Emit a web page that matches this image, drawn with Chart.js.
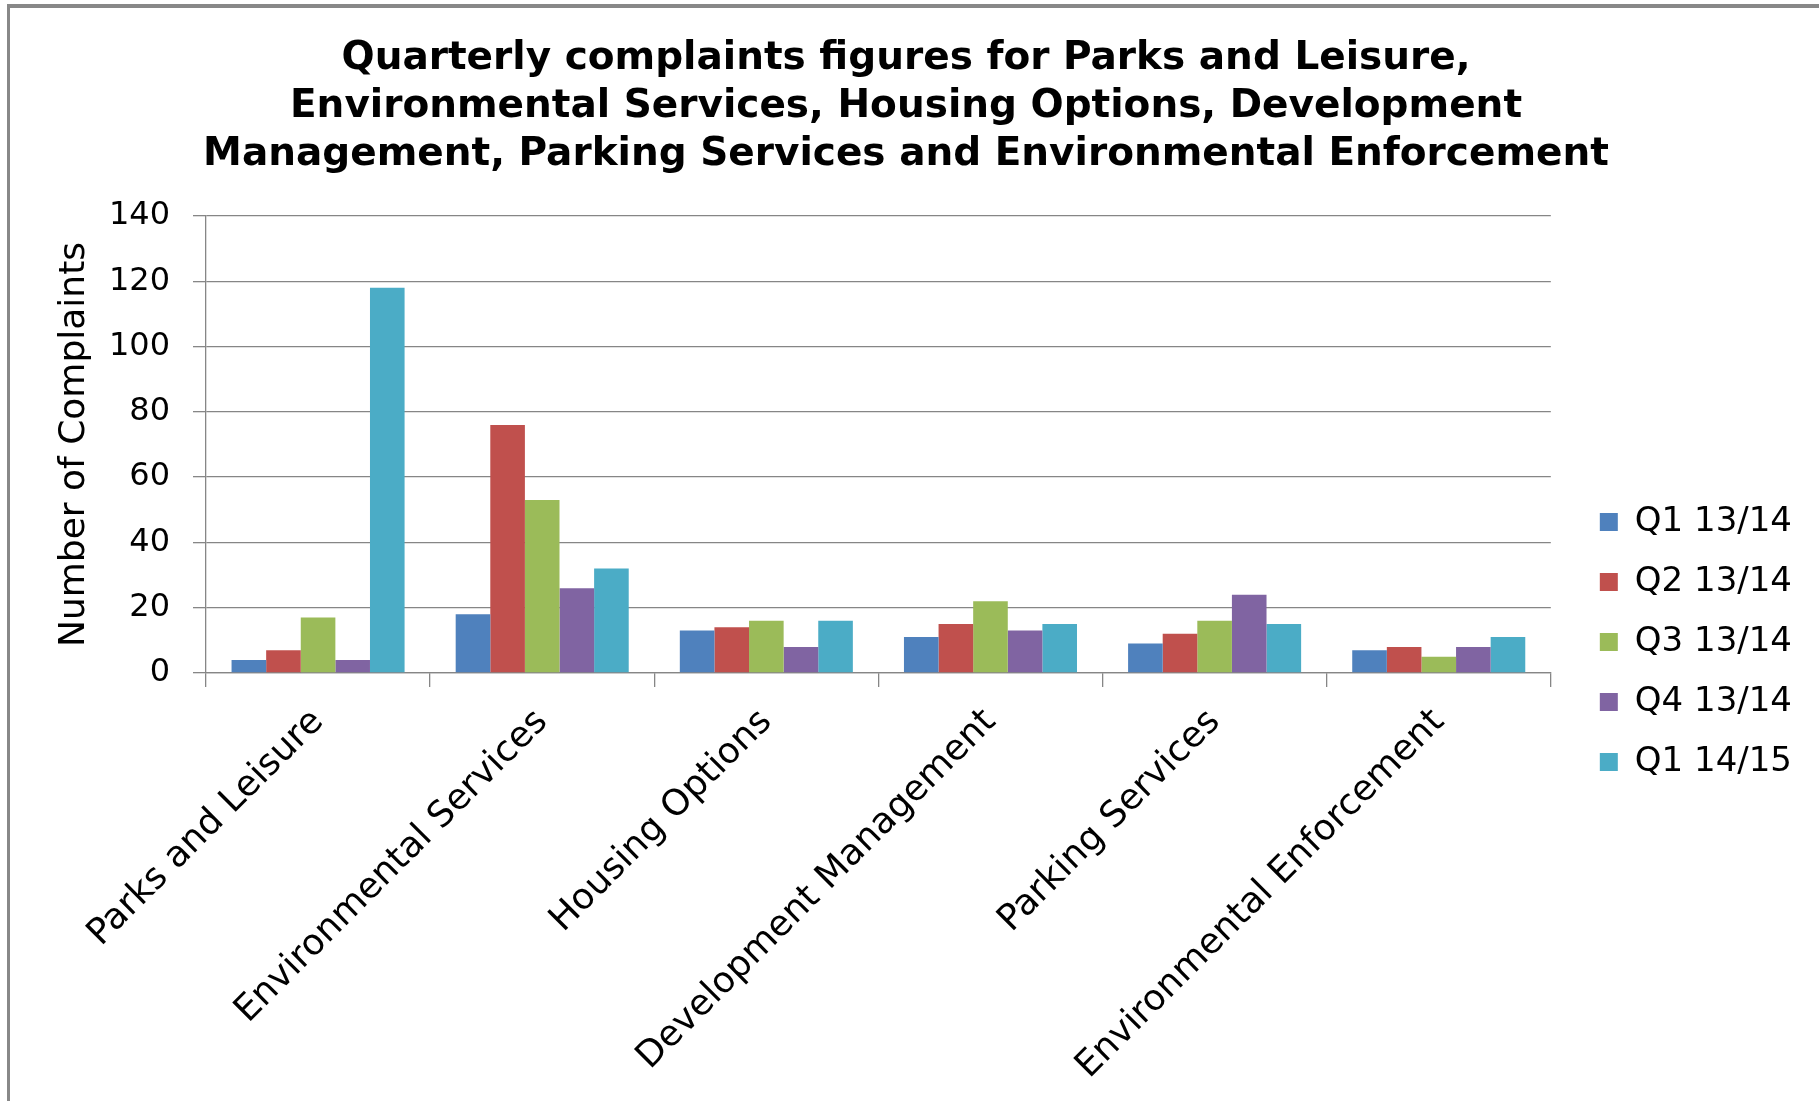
<!DOCTYPE html>
<html>
<head>
<meta charset="utf-8">
<script src="https://cdn.jsdelivr.net/npm/chart.js@4.4.1/dist/chart.umd.min.js"></script>
<style>
  html, body { margin: 0; padding: 0; background: #fff; }
  #wrap { position: relative; width: 1819px; height: 1101px; overflow: hidden; }
  #frame { position: absolute; left: 7px; top: 4px; width: 1900px; height: 1200px;
           border-top: 4px solid #888; border-left: 3px solid #888; }
  canvas { position: absolute; left: 0; top: 0; }
</style>
</head>
<body>
<div id="wrap">
  <div id="frame"></div>
  <canvas id="chart" width="1819" height="1101"></canvas>
</div>
<script>
// categories and series
const categories = ['Parks and Leisure', 'Environmental Services', 'Housing Options',
                    'Development Management', 'Parking Services', 'Environmental Enforcement'];
const seriesNames = ['Q1 13/14', 'Q2 13/14', 'Q3 13/14', 'Q4 13/14', 'Q1 14/15'];
const q1_1314 = [4, 18, 13, 11, 9, 7];
const q2_1314 = [7, 76, 14, 15, 12, 8];
const q3_1314 = [17, 53, 16, 22, 16, 5];
const q4_1314 = [4, 26, 8, 13, 24, 8];
const q1_1415 = [118, 32, 16, 15, 15, 11];
const yTicks = [0, 20, 40, 60, 80, 100, 120, 140];

const colors = ['#4F81BD', '#C0504D', '#9BBB59', '#8064A2', '#4BACC6'];
const seriesValues = [q1_1314, q2_1314, q3_1314, q4_1314, q1_1415];
const gridGrey = '#868686';
const FONT = 'DejaVu Sans, Verdana, sans-serif';

const datasets = seriesValues.map((vals, i) => ({
    label: seriesNames[i],
    data: vals,
    backgroundColor: colors[i],
    borderWidth: 0,
    categoryPercentage: 0.772,
    barPercentage: 1.0
}));

const ctx = document.getElementById('chart').getContext('2d');
new Chart(ctx, {
    type: 'bar',
    data: { labels: categories, datasets: datasets },
    options: {
        responsive: false,
        devicePixelRatio: 1,
        animation: false,
        layout: { padding: { left: 10, right: 17, top: 0, bottom: 0 } },
        plugins: {
            tooltip: { enabled: false },
            title: {
                display: true,
                text: ['Quarterly complaints figures for Parks and Leisure,',
                       'Environmental Services, Housing Options, Development',
                       'Management, Parking Services and Environmental Enforcement'],
                color: '#000',
                font: { family: FONT, size: 39, weight: 'bold', lineHeight: 48 / 39 },
                padding: { top: 34.5, bottom: 37.5 }
            },
            legend: {
                display: true,
                position: 'right',
                align: 'start',
                // empty title only pushes the entries down
                title: { display: true, text: '', font: { size: 12, lineHeight: 1 }, padding: { top: 467, bottom: 0 } },
                labels: {
                    color: '#000',
                    font: { family: FONT, size: 34 },
                    boxWidth: 18,
                    boxHeight: 18,
                    padding: 26
                }
            }
        },
        scales: {
            x: {
                grid: {
                    display: true,
                    drawOnChartArea: false,
                    drawTicks: true,
                    tickLength: 14,
                    offset: true,
                    color: gridGrey,
                    lineWidth: 1.3
                },
                border: { display: true, color: gridGrey, width: 1.3 },
                ticks: {
                    color: '#000',
                    font: { family: FONT, size: 36 },
                    minRotation: 45,
                    maxRotation: 45,
                    autoSkip: false,
                    padding: 14
                },
                afterFit: s => { s.height = 1101 - 673; }
            },
            y: {
                min: 0,
                max: 140,
                afterBuildTicks: s => { s.ticks = yTicks.map(v => ({ value: v })); },
                grid: { color: gridGrey, lineWidth: 1.3, tickLength: 13 },
                border: { display: true, color: gridGrey, width: 1.3 },
                ticks: { color: '#000', font: { family: FONT, size: 32 }, padding: 23 },
                title: {
                    display: true,
                    text: 'Number of Complaints',
                    color: '#000',
                    font: { family: FONT, size: 36, lineHeight: 1.2 },
                    padding: { top: 43, bottom: 0 }
                },
                afterFit: s => { s.width = 206 - 10; }
            },
            gap: {
                // empty spacer between plot area and legend
                position: 'right',
                display: true,
                grid: { display: false },
                border: { display: false },
                ticks: { display: false },
                afterFit: s => { s.width = 23; }
            }
        }
    }
});
</script>
</body>
</html>
